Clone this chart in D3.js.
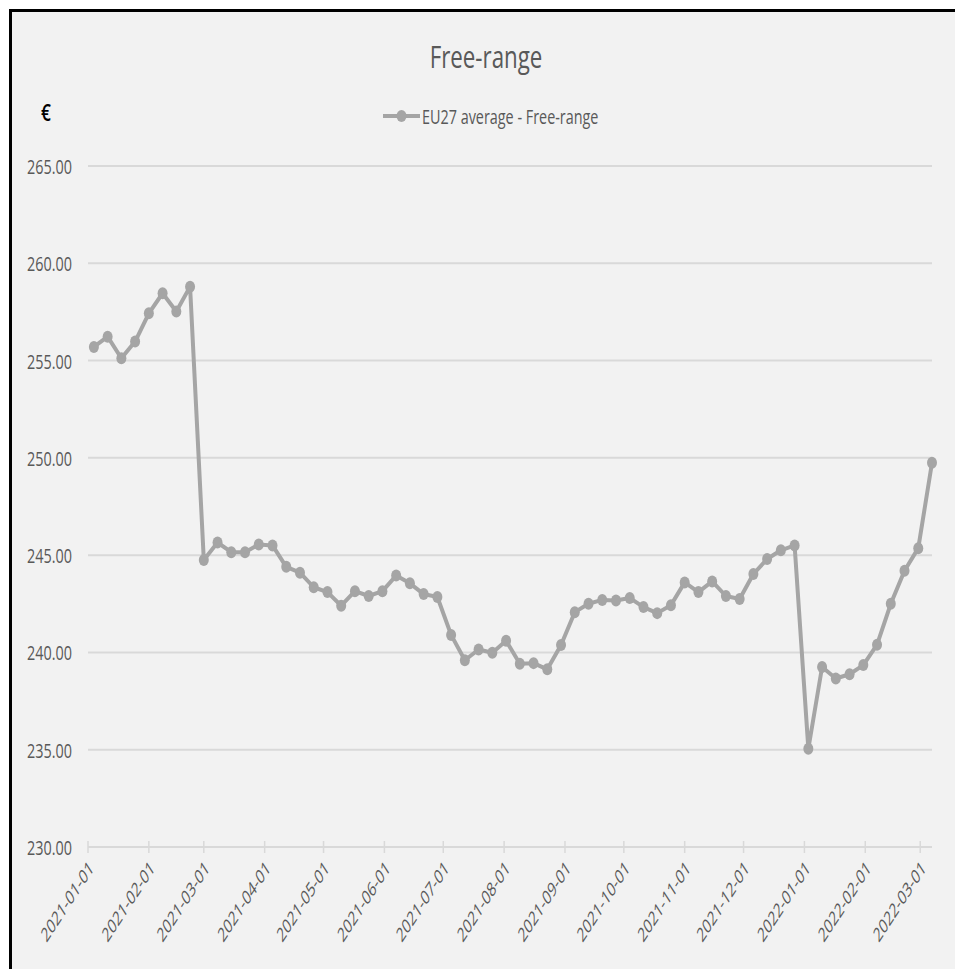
<!DOCTYPE html>
<html>
<head>
<meta charset="utf-8">
<script src="https://cdn.jsdelivr.net/npm/d3@7"></script>
<style>
  body { margin: 0; background: #fff; }
  text { font-family: "Open Sans", sans-serif; fill: #595959; }
</style>
</head>
<body>
<div id="chart"></div>
<script>
var width = 955, height = 969;
// plot area of the chart
var margin = {top: 166, right: 23, bottom: 122, left: 88};
var squeeze = 0.72;   // the source text is a narrow font
var xSqueeze = 0.65;  // rotated labels look steeper than 45deg in the source

var title = "Free-range";
var seriesName = "EU27 average - Free-range";
var unit = "€";

// weekly dates (Mondays)
var dates = [
  "2021-01-04","2021-01-11","2021-01-18","2021-01-25","2021-02-01","2021-02-08","2021-02-15","2021-02-22",
  "2021-03-01","2021-03-08","2021-03-15","2021-03-22","2021-03-29","2021-04-05","2021-04-12","2021-04-19",
  "2021-04-26","2021-05-03","2021-05-10","2021-05-17","2021-05-24","2021-05-31","2021-06-07","2021-06-14",
  "2021-06-21","2021-06-28","2021-07-05","2021-07-12","2021-07-19","2021-07-26","2021-08-02","2021-08-09",
  "2021-08-16","2021-08-23","2021-08-30","2021-09-06","2021-09-13","2021-09-20","2021-09-27","2021-10-04",
  "2021-10-11","2021-10-18","2021-10-25","2021-11-01","2021-11-08","2021-11-15","2021-11-22","2021-11-29",
  "2021-12-06","2021-12-13","2021-12-20","2021-12-27","2022-01-03","2022-01-10","2022-01-17","2022-01-24",
  "2022-01-31","2022-02-07","2022-02-14","2022-02-21","2022-02-28","2022-03-07"
];

// EU27 average price, €
var prices = [
  255.70, 256.23, 255.12, 255.98, 257.43, 258.46, 257.52, 258.80,
  244.75, 245.65, 245.15, 245.15, 245.55, 245.50, 244.40, 244.10,
  243.35, 243.10, 242.40, 243.15, 242.90, 243.15, 243.95, 243.55,
  243.00, 242.85, 240.90, 239.60, 240.15, 239.98, 240.60, 239.42,
  239.45, 239.13, 240.38, 242.07, 242.50, 242.70, 242.67, 242.80,
  242.33, 242.02, 242.43, 243.60, 243.10, 243.65, 242.90, 242.75,
  244.03, 244.80, 245.25, 245.50, 235.05, 239.25, 238.66, 238.88,
  239.35, 240.40, 242.50, 244.20, 245.36, 249.75
];

var yTicks = [230, 235, 240, 245, 250, 255, 260, 265];
var xTickLabels = [
  "2021-01-01","2021-02-01","2021-03-01","2021-04-01","2021-05-01","2021-06-01","2021-07-01","2021-08-01",
  "2021-09-01","2021-10-01","2021-11-01","2021-12-01","2022-01-01","2022-02-01","2022-03-01"
];

var parse = d3.timeParse("%Y-%m-%d");
var data = dates.map(function(d, i) { return {date: parse(d), value: prices[i]}; });

var x = d3.scaleTime()
    .domain([parse("2021-01-01"), parse("2022-03-07")])
    .range([margin.left, width - margin.right]);
var y = d3.scaleLinear()
    .domain([230, 265])
    .range([height - margin.bottom, margin.top]);

var svg = d3.select("#chart")
  .append("svg")
    .attr("width", width)
    .attr("height", height);

// chart frame
svg.append("rect")
    .attr("x", 10.5).attr("y", 10.5)
    .attr("width", 1000).attr("height", 1000)
    .attr("fill", "#f2f2f2")
    .attr("stroke", "#000")
    .attr("stroke-width", 3);

// title
svg.append("text")
    .attr("transform", "translate(486,68) scale(" + squeeze + ",1)")
    .attr("text-anchor", "middle")
    .style("font-size", "31px")
    .text(title);

// unit
svg.append("text")
    .attr("transform", "translate(46,112) scale(" + squeeze + ",1)")
    .attr("text-anchor", "middle")
    .attr("dominant-baseline", "central")
    .style("font-size", "24px")
    .style("font-weight", "600")
    .style("fill", "#000")
    .text(unit);

// legend
var legend = svg.append("g").attr("transform", "translate(383,116)");
legend.append("line")
    .attr("x1", 0).attr("x2", 37)
    .attr("stroke", "#a5a5a5").attr("stroke-width", 4);
legend.append("ellipse")
    .attr("cx", 18.5).attr("rx", 5).attr("ry", 6)
    .attr("fill", "#a5a5a5");
legend.append("text")
    .attr("transform", "translate(39,0) scale(" + squeeze + ",1)")
    .attr("dominant-baseline", "central")
    .style("font-size", "20px")
    .text(seriesName);

// horizontal gridlines
svg.append("g")
  .selectAll("line")
  .data(yTicks.slice(1))
  .join("line")
    .attr("x1", x.range()[0]).attr("x2", x.range()[1])
    .attr("y1", function(d) { return y(d); })
    .attr("y2", function(d) { return y(d); })
    .attr("stroke", "#d9d9d9")
    .attr("stroke-width", 2);

// y labels
svg.append("g")
  .selectAll("text")
  .data(yTicks)
  .join("text")
    .attr("transform", function(d) { return "translate(72," + y(d) + ") scale(" + squeeze + ",1)"; })
    .attr("text-anchor", "end")
    .attr("dominant-baseline", "central")
    .style("font-size", "20px")
    .text(function(d) { return d3.format(".2f")(d); });

// x axis line with month ticks
var xAxis = svg.append("g");
xAxis.append("line")
    .attr("x1", x.range()[0]).attr("x2", x.range()[1])
    .attr("y1", y(230)).attr("y2", y(230))
    .attr("stroke", "#d9d9d9")
    .attr("stroke-width", 2);
xAxis.selectAll(".tick")
  .data(xTickLabels)
  .join("line")
    .attr("class", "tick")
    .attr("x1", function(d) { return x(parse(d)); })
    .attr("x2", function(d) { return x(parse(d)); })
    .attr("y1", y(230) - 6).attr("y2", y(230) + 6)
    .attr("stroke", "#d9d9d9")
    .attr("stroke-width", 1.5);
xAxis.selectAll("text")
  .data(xTickLabels)
  .join("text")
    .attr("transform", function(d) {
      return "translate(" + (x(parse(d)) + 3) + "," + (y(230) + 17) + ") scale(" + xSqueeze + ",1) rotate(-45)";
    })
    .attr("text-anchor", "end")
    .attr("dominant-baseline", "central")
    .style("font-size", "20px")
    .text(function(d) { return d; });

// the series
var line = d3.line()
    .x(function(d) { return x(d.date); })
    .y(function(d) { return y(d.value); });

svg.append("path")
    .datum(data)
    .attr("d", line)
    .attr("fill", "none")
    .attr("stroke", "#a5a5a5")
    .attr("stroke-width", 4)
    .attr("stroke-linejoin", "round");

svg.append("g")
  .selectAll("ellipse")
  .data(data)
  .join("ellipse")
    .attr("cx", function(d) { return x(d.date); })
    .attr("cy", function(d) { return y(d.value); })
    .attr("rx", 5)
    .attr("ry", 6)
    .attr("fill", "#a5a5a5");
</script>
</body>
</html>
